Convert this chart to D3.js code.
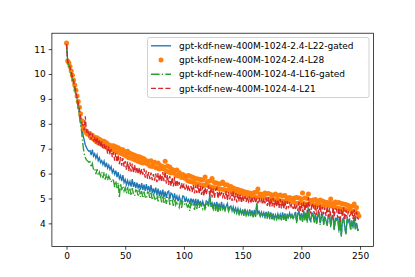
<!DOCTYPE html>
<meta charset="utf-8">
<script src="https://d3js.org/d3.v7.min.js"></script>
<style>
  body { margin: 0; background: #fff; }
  text { font-family: "DejaVu Sans", sans-serif; font-size: 9px; fill: #000; }
</style>
<div id="chart"></div>
<script>

// series names (legend order = draw order)
var names = [
  "gpt-kdf-new-400M-1024-2.4-L22-gated",
  "gpt-kdf-new-400M-1024-2.4-L28",
  "gpt-kdf-new-400M-1024-4-L16-gated",
  "gpt-kdf-new-400M-1024-4-L21"
];

var xTicks = [0, 50, 100, 150, 200, 250];
var yTicks = [4, 5, 6, 7, 8, 9, 10, 11];

// values, one per step 0..249
var l22gated = [
  11.2,10.5,10.38,10.22,10.05,9.85,9.65,9.45,9.25,9.0,
  8.75,8.45,8.15,7.85,7.56,7.35,7.15,7.05,6.95,6.9,
  6.92,6.74,6.96,6.70,6.80,6.62,6.76,6.52,6.64,6.44,
  6.52,6.36,6.50,6.26,6.44,6.22,6.34,6.16,6.28,6.04,
  6.16,5.98,6.12,5.86,6.06,5.80,5.92,5.70,5.94,5.64,
  5.76,5.56,5.72,5.54,5.68,5.48,5.78,5.46,5.66,5.42,
  5.64,5.40,5.58,5.36,5.62,5.34,5.56,5.30,5.58,5.32,
  5.50,5.26,5.54,5.22,5.40,5.20,5.44,5.14,5.40,5.10,
  5.32,5.08,5.36,5.04,5.28,5.02,5.26,5.30,4.98,5.22,
  5.18,4.94,5.20,4.96,5.10,4.88,5.08,4.92,4.86,5.10,
  5.08,4.86,5.02,4.88,4.96,4.78,5.00,4.84,4.98,4.72,
  4.98,4.70,4.96,4.74,4.90,4.68,4.88,4.72,4.64,4.90,
  4.86,4.74,5.14,4.70,4.82,4.62,4.84,4.60,4.86,4.58,
  4.80,4.56,4.86,4.60,4.74,4.54,4.70,4.80,4.52,4.66,
  4.70,4.50,4.66,4.46,4.62,4.44,4.60,4.40,4.56,4.38,
  4.56,4.34,4.58,4.36,4.50,4.30,4.56,4.32,4.52,4.28,
  4.54,4.30,4.80,4.40,4.48,4.32,4.46,4.30,4.44,4.28,
  4.46,4.22,4.48,4.20,4.44,4.18,4.40,4.16,4.34,4.20,
  4.38,4.20,4.36,4.16,4.44,4.18,4.40,4.10,4.38,4.24,
  4.42,4.26,4.36,4.20,4.34,4.46,4.06,4.40,4.50,4.18,
  4.40,4.10,4.52,4.16,4.44,4.08,4.64,4.18,4.10,4.42,
  4.36,4.06,4.40,4.02,4.32,4.44,4.00,4.30,4.36,3.98,
  4.28,4.10,3.96,4.30,4.36,3.90,4.24,4.32,3.76,4.20,
  4.16,4.28,3.70,4.22,3.50,4.16,4.22,3.86,3.60,4.20,
  4.06,4.20,3.76,4.12,3.84,4.24,3.80,4.02,3.74,3.76
];

var l28 = [
  11.25,10.52,10.45,10.3,10.12,9.95,9.75,9.56,9.35,9.12,
  8.9,8.66,8.4,8.12,7.9,7.78,7.7,7.63,7.58,7.6,
  7.60,7.44,7.54,7.40,7.46,7.30,7.44,7.24,7.38,7.20,
  7.32,7.14,7.30,7.08,7.24,7.04,7.16,7.06,7.12,6.96,
  7.12,6.92,7.08,6.88,7.04,6.84,6.98,6.80,6.96,6.76,
  6.88,6.70,6.90,6.64,6.82,6.62,6.78,6.58,6.74,6.54,
  6.70,6.50,6.68,6.46,6.64,6.42,6.60,6.44,6.52,6.38,
  6.50,6.30,6.52,6.28,6.42,6.46,6.24,6.22,6.42,6.18,
  6.32,6.20,6.28,6.18,6.50,6.10,6.30,6.06,6.26,6.02,
  6.16,6.04,6.12,5.94,6.14,5.90,6.04,5.92,5.84,5.96,
  5.92,5.80,5.90,5.72,5.92,5.68,5.88,5.66,5.84,5.62,
  5.80,5.58,5.78,5.56,5.76,5.54,5.74,5.52,5.86,5.56,
  5.68,5.50,5.70,5.46,5.80,5.44,5.64,5.42,5.62,5.40,
  5.58,5.38,5.60,5.66,5.36,5.56,5.32,5.54,5.34,5.46,
  5.48,5.28,5.42,5.30,5.38,5.24,5.36,5.18,5.32,5.20,
  5.30,5.18,5.26,5.14,5.24,5.12,5.22,5.10,5.20,5.08,
  5.24,5.04,5.26,5.38,5.06,5.18,5.08,5.16,5.04,5.22,
  5.18,4.98,5.20,4.96,5.16,5.02,4.94,5.14,5.18,4.96,
  5.12,4.92,5.14,4.90,5.10,4.88,5.12,4.92,5.02,4.90,
  5.04,4.92,5.00,4.90,5.02,4.82,5.04,4.80,5.02,4.84,
  4.98,5.22,4.80,5.02,4.78,5.00,5.18,4.80,4.92,4.82,
  4.94,4.74,4.96,4.76,4.88,4.76,4.94,4.70,4.90,4.72,
  4.86,4.76,4.84,4.72,4.82,4.98,4.70,4.80,4.66,4.86,
  4.82,4.62,4.84,4.60,4.80,4.58,4.78,4.56,4.76,4.54,
  4.72,4.60,4.68,4.50,4.70,4.78,4.46,4.64,4.40,4.30
];

var l16gated = [
  11.2,10.45,10.32,10.15,9.98,9.78,9.58,9.36,9.15,8.9,
  8.62,8.30,7.98,7.62,7.15,6.80,6.64,6.55,6.50,6.46,
  6.48,6.26,6.40,6.16,6.20,5.98,6.18,5.92,6.06,5.90,
  6.06,5.82,6.06,5.76,6.00,5.74,5.90,5.78,5.66,5.78,
  5.72,5.46,5.70,5.42,5.64,5.02,5.60,5.34,5.50,5.30,
  5.44,5.20,5.46,5.16,5.40,5.12,5.42,5.18,5.10,5.34,
  5.32,5.08,5.38,5.06,5.30,5.02,5.28,5.06,5.00,5.26,
  5.24,4.98,5.24,4.94,5.20,5.00,4.92,5.14,4.88,5.12,
  5.10,4.84,5.12,4.82,5.04,4.78,5.02,5.08,4.74,4.98,
  4.96,4.70,4.98,4.74,4.88,4.76,4.64,4.92,4.62,4.88,
  4.86,4.72,4.78,4.66,4.74,4.50,4.82,4.70,4.76,4.54,
  4.84,4.58,4.86,4.62,4.80,4.70,4.58,4.78,4.52,4.76,
  4.80,4.68,5.10,4.62,4.72,4.56,4.76,4.50,4.78,4.46,
  4.74,4.50,4.78,4.56,4.64,4.52,4.66,4.74,4.48,4.60,
  4.66,4.52,4.58,4.44,4.54,4.40,4.52,4.36,4.48,4.36,
  4.52,4.30,4.54,4.32,4.44,4.28,4.52,4.28,4.46,4.24,
  4.50,4.26,4.80,4.36,4.40,4.28,4.40,4.28,4.36,4.24,
  4.42,4.18,4.44,4.16,4.40,4.12,4.36,4.12,4.28,4.16,
  4.32,4.16,4.30,4.12,4.38,4.14,4.34,4.06,4.32,4.20,
  4.38,4.22,4.30,4.16,4.28,4.42,4.00,4.36,4.46,4.12,
  4.36,4.06,4.48,4.12,4.40,4.02,4.60,4.14,4.04,4.38,
  4.30,4.02,4.36,3.98,4.28,4.40,3.94,4.26,4.30,3.94,
  4.24,4.06,3.90,4.26,4.32,3.84,4.20,4.28,3.70,4.16,
  4.12,4.24,3.64,4.18,3.46,4.12,4.18,3.80,3.56,4.16,
  4.02,4.16,3.72,4.08,3.80,4.20,3.76,3.98,3.72,3.74
];

var l21 = [
  11.2,10.5,10.4,10.26,10.08,9.9,9.7,9.5,9.28,9.05,
  8.82,8.58,8.3,8.02,7.96,7.74,8.3,7.64,7.78,7.50,
  7.62,7.36,7.60,7.28,7.48,7.20,7.46,7.14,7.36,7.06,
  7.28,7.02,7.18,6.96,7.12,6.80,7.08,6.76,6.98,6.66,
  6.86,6.52,6.82,6.46,6.76,6.38,6.66,6.32,6.62,6.28,
  6.50,6.16,6.48,6.10,6.44,6.08,6.40,6.02,6.34,6.04,
  6.26,5.98,6.24,5.94,6.18,5.96,6.20,5.84,6.12,5.80,
  6.06,5.78,6.04,5.74,5.98,5.72,6.00,5.66,6.02,5.70,
  5.98,5.66,6.06,5.70,6.08,5.60,5.94,5.54,5.90,5.50,
  5.84,5.48,5.86,5.46,5.74,5.50,5.66,5.40,5.62,5.38,
  5.60,5.36,5.56,5.32,5.52,5.30,5.50,5.26,5.54,5.20,
  5.52,5.22,5.56,5.18,5.50,5.14,5.48,5.10,5.44,5.16,
  5.38,5.52,5.08,5.44,5.04,5.40,5.02,5.36,5.42,5.00,
  5.30,5.08,5.26,5.06,5.22,4.98,5.30,4.92,5.26,4.96,
  5.24,4.90,5.30,4.92,5.22,4.84,5.18,4.88,5.16,4.82,
  5.12,4.90,5.08,4.86,5.08,4.88,5.02,4.80,5.06,4.86,
  5.04,4.82,5.00,4.80,5.02,4.84,4.96,4.76,5.00,4.80,
  5.02,4.70,5.06,4.66,4.98,4.68,5.02,4.64,4.96,4.66,
  4.96,4.62,4.98,4.60,4.92,4.58,4.90,4.56,4.88,4.60,
  4.84,4.62,4.80,4.58,4.76,4.54,4.72,4.50,4.86,4.46,
  4.80,4.46,4.86,4.50,4.82,4.44,5.04,4.52,4.42,4.80,
  4.72,4.38,4.76,4.34,4.70,4.40,4.74,4.32,4.66,4.36,
  4.64,4.30,4.68,4.26,4.62,4.32,4.18,4.64,4.28,4.58,
  4.56,4.22,4.62,4.04,4.58,4.26,4.64,4.14,4.54,4.20,
  4.48,4.30,4.36,4.52,4.18,4.56,4.10,4.46,4.20,4.16
];

var series = [l22gated, l28, l16gated, l21];
var colors = ["#1f77b4", "#ff7f0e", "#2ca02c", "#d62728"];
var dashes = [null, null, "8.6,2.2,1.35,2.2", "5,2.2"];

// figure 415x277, axes box like matplotlib defaults
var W = 415, H = 277;
var margin = {top: 33.2, right: 41.5, bottom: 30.5, left: 51.9};
var width = W - margin.left - margin.right,
    height = H - margin.top - margin.bottom;

var svg = d3.select("#chart").append("svg")
    .attr("width", W)
    .attr("height", H);

var g = svg.append("g")
    .attr("transform", "translate(" + margin.left + "," + margin.top + ")");

var n = l28.length;
var allY = [].concat(l22gated, l28, l16gated, l21);
var yMin = d3.min(allY), yMax = d3.max(allY);
var xPad = (n - 1) * 0.05, yPad = (yMax - yMin) * 0.05;

var x = d3.scaleLinear().domain([-xPad, n - 1 + xPad]).range([0, width]);
var y = d3.scaleLinear().domain([yMin - yPad, yMax + yPad]).range([height, 0]);

g.append("clipPath").attr("id", "clip")
  .append("rect").attr("width", width).attr("height", height);

var plot = g.append("g").attr("clip-path", "url(#clip)");

var line = d3.line()
    .x(function(d, i) { return x(i); })
    .y(function(d) { return y(d); });

series.forEach(function(s, k) {
  if (k == 1) {
    plot.append("g").selectAll("circle")
      .data(s)
      .enter().append("circle")
        .attr("cx", function(d, i) { return x(i); })
        .attr("cy", function(d) { return y(d); })
        .attr("r", 2.5)
        .attr("fill", colors[k]);
  } else {
    plot.append("path")
      .datum(s)
      .attr("fill", "none")
      .attr("stroke", colors[k])
      .attr("stroke-width", 1.35)
      .attr("stroke-dasharray", dashes[k])
      .attr("d", line);
  }
});

// axes
var xAxis = g.append("g")
    .attr("transform", "translate(0," + height + ")")
    .call(d3.axisBottom(x).tickValues(xTicks).tickSize(3.2).tickPadding(3));
var yAxis = g.append("g")
    .call(d3.axisLeft(y).tickValues(yTicks).tickSize(3.2).tickPadding(3));

[xAxis, yAxis].forEach(function(a) {
  a.selectAll("path").remove();
  a.selectAll("line").attr("stroke-width", 0.72);
  a.selectAll("text").style("font-size", "9px").style("font-family", "DejaVu Sans");
});

g.append("rect")
  .attr("width", width).attr("height", height)
  .attr("fill", "none").attr("stroke", "#000").attr("stroke-width", 0.72);

// legend
var lg = svg.append("g").attr("transform", "translate(147.5,37.5)");
lg.append("rect")
  .attr("width", 221.5).attr("height", 60)
  .attr("rx", 2).attr("fill", "#fff").attr("fill-opacity", 0.8)
  .attr("stroke", "#ccc").attr("stroke-width", 0.9);

names.forEach(function(name, k) {
  var ry = 8.3 + k * 14.2;
  if (k == 1) {
    lg.append("circle").attr("cx", 13.5).attr("cy", ry).attr("r", 2.5).attr("fill", colors[k]);
  } else {
    lg.append("line")
      .attr("x1", 3.5).attr("x2", 23.5).attr("y1", ry).attr("y2", ry)
      .attr("stroke", colors[k]).attr("stroke-width", 1.35)
      .attr("stroke-dasharray", dashes[k]);
  }
  lg.append("text")
    .attr("x", 31.5).attr("y", ry).attr("dy", "0.35em")
    .text(name);
});

</script>
